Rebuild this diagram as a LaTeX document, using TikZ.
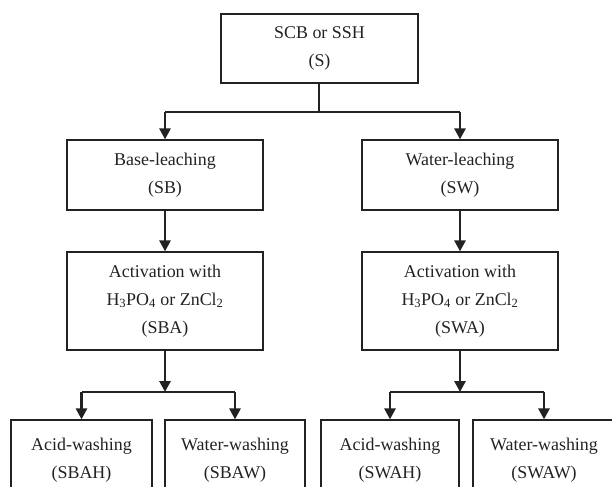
\documentclass[tikz,border=0pt]{standalone}
\usepackage{fontspec}
\setmainfont{Liberation Serif}
\usetikzlibrary{arrows.meta}
\definecolor{ink}{HTML}{222222}
\tikzset{
  box/.style={draw=ink, line width=1.2bp, text=ink, inner sep=0pt, align=center,
    font=\fontsize{18}{28}\selectfont},
  arr/.style={draw=ink, line width=2.8bp, -{Triangle[width=11bp,length=11bp]}},
  thin/.style={draw=ink, line width=1.4bp}
}
\begin{document}
\begin{tikzpicture}[x=1bp,y=-1bp]
\useasboundingbox (0,0) rectangle (612,487);
\clip (0,0) rectangle (612,487);
\node[box, minimum width=197bp, minimum height=69bp] (S) at (319.5,48.5) {SCB or SSH\\(S)};
\node[box, minimum width=196bp, minimum height=70bp] (SB) at (165,175) {Base-leaching\\(SB)};
\node[box, minimum width=196bp, minimum height=70bp] (SW) at (460,175) {Water-leaching\\(SW)};
\node[box, minimum width=196bp, minimum height=98bp] (SBA) at (165,301) {Activation with\\H\textsubscript{3}PO\textsubscript{4} or ZnCl\textsubscript{2}\\(SBA)};
\node[box, minimum width=196bp, minimum height=98bp] (SWA) at (460,301) {Activation with\\H\textsubscript{3}PO\textsubscript{4} or ZnCl\textsubscript{2}\\(SWA)};
\node[box, minimum width=141bp, minimum height=80bp] (SBAH) at (81.5,460) {Acid-washing\\(SBAH)};
\node[box, minimum width=140bp, minimum height=80bp] (SBAW) at (235,460) {Water-washing\\(SBAW)};
\node[box, minimum width=138bp, minimum height=80bp] (SWAH) at (390,460) {Acid-washing\\(SWAH)};
\node[box, minimum width=142bp, minimum height=80bp] (SWAW) at (544,460) {Water-washing\\(SWAW)};
% top split
\coordinate (j1) at (319,112);
\draw[thin] (S.south -| j1) -- (j1);
\draw[thin] (SB.north |- j1) -- (SW.north |- j1);
\draw[arr] (SB.north |- j1) -- (SB.north);
\draw[arr] (SW.north |- j1) -- (SW.north);
% level 2 -> 3
\draw[arr] (SB) -- (SBA);
\draw[arr] (SW) -- (SWA);
% bottom splits
\coordinate (j2) at (165,392);
\coordinate (j3) at (460,392);
\draw[arr] (SBA.south) -- (j2);
\draw[arr] (SWA.south) -- (j3);
\draw[thin] (SBAH.north |- j2) -- (SBAW.north |- j2);
\draw[thin] (SWAH.north |- j3) -- (SWAW.north |- j3);
\draw[arr] (SBAH.north |- j2) -- (SBAH.north);
\draw[arr] (SBAW.north |- j2) -- (SBAW.north);
\draw[arr] (SWAH.north |- j3) -- (SWAH.north);
\draw[arr] (SWAW.north |- j3) -- (SWAW.north);
\end{tikzpicture}
\end{document}
